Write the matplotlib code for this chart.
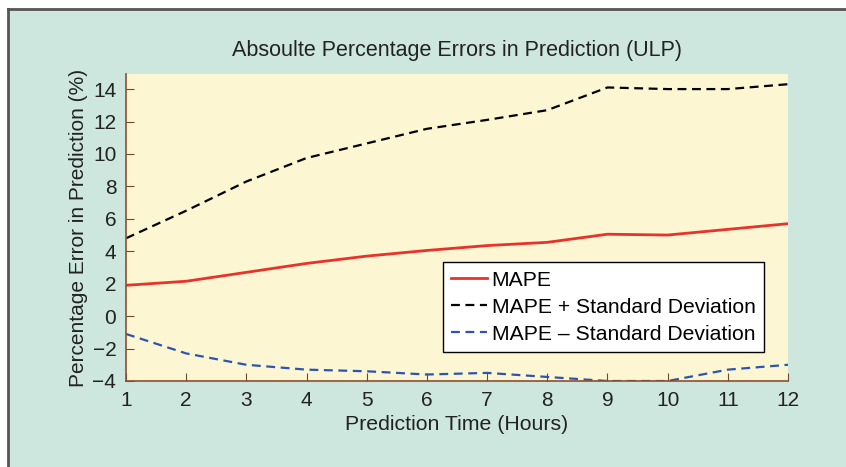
import matplotlib
matplotlib.use("Agg")
import matplotlib.pyplot as plt
from matplotlib.patches import Rectangle
from matplotlib.lines import Line2D

plt.rcParams['font.family'] = ['Liberation Sans', 'DejaVu Sans']

hours = [1, 2, 3, 4, 5, 6, 7, 8, 9, 10, 11, 12]
mape = [1.9, 2.15, 2.7, 3.25, 3.7, 4.05, 4.35, 4.55, 5.05, 5.0, 5.35, 5.7]
mape_plus = [4.8, 6.5, 8.3, 9.75, 10.65, 11.55, 12.1, 12.7, 14.1, 14.0, 14.0, 14.3]
mape_minus = [-1.1, -2.3, -3.0, -3.3, -3.4, -3.6, -3.5, -3.75, -4.0, -4.0, -3.3, -3.0]
xticks = list(range(1, 13))
yticks = [-4, -2, 0, 2, 4, 6, 8, 10, 12, 14]

W, H = 846, 467
fig = plt.figure(figsize=(W / 100, H / 100), dpi=100)
fig.patch.set_facecolor('white')

teal = '#cde7df'
fig.patches.append(Rectangle((8 / W, 0), 1 - 8 / W, 1 - 9 / H, transform=fig.transFigure,
                             facecolor=teal, edgecolor='none', zorder=-2))
fig.lines.append(Line2D([8 / W, 1], [1 - 9 / H, 1 - 9 / H], transform=fig.transFigure,
                        color='#555555', lw=2, zorder=-1))
fig.lines.append(Line2D([8 / W, 8 / W], [0, 1 - 9 / H], transform=fig.transFigure,
                        color='#555555', lw=2, zorder=-1))

ax = fig.add_axes([126 / W, (H - 381) / H, (788 - 126) / W, (381 - 74) / H])
ax.set_zorder(1)
ax.set_facecolor('#fdf6d3')

ax.plot(hours, mape, color='#e8322a', lw=2, label='MAPE')
ax.plot(hours, mape_plus, color='black', lw=1.6, ls=(0, (4, 2.5)), label='MAPE + Standard Deviation')
ax.plot(hours, mape_minus, color='#2c55b3', lw=1.6, ls=(0, (4, 2.5)), label='MAPE – Standard Deviation')

ax.set_xlim(1, 12)
ax.set_ylim(-4, 14.93)
ax.set_xticks(xticks)
ax.set_yticks(yticks)
ax.tick_params(direction='in', length=6, color='#6b4a30', labelsize=15, pad=7,
               labelcolor='#222222')

for s in ['top', 'right']:
    ax.spines[s].set_visible(False)
for s in ['left', 'bottom']:
    ax.spines[s].set_color('#8a5030')
    ax.spines[s].set_linewidth(1.2)

ax.set_title('Absoulte Percentage Errors in Prediction (ULP)', fontsize=15.5, pad=13, color='#222222')
ax.set_xlabel('Prediction Time (Hours)', fontsize=15.3, labelpad=4, color='#222222')
ax.set_ylabel('Percentage Error in Prediction (%)', fontsize=15, labelpad=3, color='#222222')

leg = ax.legend(loc='lower left', bbox_to_anchor=((443 - 126) / (788 - 126), (381 - 352) / (381 - 74)),
                fontsize=15.2, frameon=True, fancybox=False, handlelength=1.7, handletextpad=0.2,
                borderpad=0.4, labelspacing=0.38, borderaxespad=0)
leg.get_frame().set_edgecolor('black')
leg.get_frame().set_linewidth(1.0)
leg.get_frame().set_facecolor('white')
leg.get_frame().set_alpha(1)

fig.savefig('out.png', dpi=100, facecolor=fig.get_facecolor())
